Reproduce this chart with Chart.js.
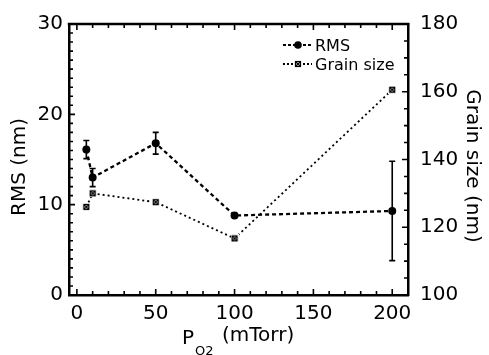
<!DOCTYPE html>
<html>
<head>
<meta charset="utf-8">
<script src="https://cdn.jsdelivr.net/npm/chart.js@4.4.1/dist/chart.umd.min.js"></script>
<style>
html,body{margin:0;padding:0;background:#fff;}
canvas{display:block;}
</style>
</head>
<body>
<canvas id="c" width="489" height="355"></canvas>
<script>
// ---- data ----
const pressure = [6, 10, 50, 100, 200];          // P_O2 (mTorr)
const rmsValues = [16.1, 13.0, 16.8, 8.8, 9.3];  // RMS (nm)
const rmsErrors = [1.0, 1.0, 1.2, 0, 5.5];       // RMS error (nm)
const grainValues = [126, 130, 127.4, 116.7, 160.6]; // Grain size (nm)
const xTickValues = [0, 50, 100, 150, 200];
const yTickValues = [0, 10, 20, 30];
const y2TickValues = [100, 120, 140, 160, 180];

const FONT = "DejaVu Sans";

// crossed-square marker for grain size
function makeMarker() {
  const m = document.createElement('canvas');
  m.width = 8; m.height = 8;
  const g = m.getContext('2d');
  g.fillStyle = '#fff'; g.fillRect(0, 0, 8, 8);
  g.strokeStyle = '#000'; g.lineWidth = 1.2;
  g.strokeRect(1.5, 1.5, 5, 5);
  g.beginPath();
  g.moveTo(2, 2); g.lineTo(6, 6);
  g.moveTo(6, 2); g.lineTo(2, 6);
  g.stroke();
  return m;
}
const grainMarker = makeMarker();

const decor = {
  id: 'decor',
  afterDatasetsDraw(chart) {
    const ctx = chart.ctx;
    const x = chart.scales.x, y = chart.scales.y, y2 = chart.scales.y2;
    const ca = chart.chartArea;
    ctx.save();
    // error bars
    ctx.strokeStyle = '#000'; ctx.lineWidth = 1.6;
    pressure.forEach((p, i) => {
      const e = rmsErrors[i];
      if (!e) return;
      const px = x.getPixelForValue(p);
      const t = y.getPixelForValue(rmsValues[i] + e);
      const b = y.getPixelForValue(rmsValues[i] - e);
      ctx.beginPath();
      ctx.moveTo(px, t); ctx.lineTo(px, b);
      ctx.moveTo(px - 3, t); ctx.lineTo(px + 3, t);
      ctx.moveTo(px - 3, b); ctx.lineTo(px + 3, b);
      ctx.stroke();
    });
    // top frame
    ctx.lineWidth = 2.5;
    ctx.beginPath();
    ctx.moveTo(ca.left - 1.25, ca.top); ctx.lineTo(ca.right + 1.25, ca.top);
    ctx.stroke();
    // inward ticks
    ctx.lineWidth = 1.6;
    ctx.beginPath();
    for (let v = 0; v <= 210; v += 10) {
      const px = x.getPixelForValue(v);
      const L = v % 50 === 0 ? 6 : 4;
      ctx.moveTo(px, ca.bottom); ctx.lineTo(px, ca.bottom - L);
      ctx.moveTo(px, ca.top); ctx.lineTo(px, ca.top + L);
    }
    for (let v = 0; v <= 30; v += 1) {
      const py = y.getPixelForValue(v);
      const L = v % 10 === 0 ? 6 : 4;
      ctx.moveTo(ca.left, py); ctx.lineTo(ca.left + L, py);
    }
    for (let v = 100; v <= 180; v += 5) {
      const py = y2.getPixelForValue(v);
      const L = v % 20 === 0 ? 6 : 4;
      ctx.moveTo(ca.right, py); ctx.lineTo(ca.right - L, py);
    }
    ctx.stroke();

    // legend
    ctx.fillStyle = '#000';
    ctx.strokeStyle = '#000';
    ctx.lineWidth = 2.2;
    ctx.setLineDash([3, 2]);
    ctx.beginPath(); ctx.moveTo(283, 45); ctx.lineTo(312, 45); ctx.stroke();
    ctx.lineWidth = 1.8;
    ctx.setLineDash([2, 2]);
    ctx.beginPath(); ctx.moveTo(283, 64); ctx.lineTo(312, 64); ctx.stroke();
    ctx.setLineDash([]);
    ctx.beginPath(); ctx.arc(298, 45, 3.8, 0, Math.PI * 2); ctx.fill();
    ctx.drawImage(grainMarker, 294, 60);
    ctx.font = '16px "' + FONT + '"';
    ctx.textBaseline = 'alphabetic';
    ctx.textAlign = 'left';
    ctx.fillText('RMS', 315, 51);
    ctx.fillText('Grain size', 315, 70);

    // axis titles
    ctx.font = '20px "' + FONT + '"';
    ctx.save();
    ctx.translate(25, 167);
    ctx.rotate(-Math.PI / 2);
    ctx.textAlign = 'center';
    ctx.fillText('RMS (nm)', 0, 0);
    ctx.restore();
    ctx.save();
    ctx.translate(467, 166);
    ctx.rotate(Math.PI / 2);
    ctx.textAlign = 'center';
    ctx.fillText('Grain size (nm)', 0, 0);
    ctx.restore();
    // x title with subscript
    ctx.textAlign = 'left';
    ctx.fillText('P', 182, 344);
    ctx.font = '13px "' + FONT + '"';
    ctx.fillText('O2', 195, 355);
    ctx.font = '20px "' + FONT + '"';
    ctx.fillText('(mTorr)', 222, 341);
    ctx.restore();
  }
};

new Chart(document.getElementById('c'), {
  type: 'line',
  data: {
    datasets: [
      {
        label: 'RMS',
        data: pressure.map((p, i) => ({ x: p, y: rmsValues[i] })),
        yAxisID: 'y',
        borderColor: '#000',
        backgroundColor: '#000',
        borderWidth: 2.3,
        borderDash: [4, 3],
        pointRadius: 4,
        pointStyle: 'circle',
        pointBorderWidth: 0,
        tension: 0
      },
      {
        label: 'Grain size',
        data: pressure.map((p, i) => ({ x: p, y: grainValues[i] })),
        yAxisID: 'y2',
        borderColor: '#000',
        backgroundColor: '#fff',
        borderWidth: 1.8,
        borderDash: [2, 3],
        pointStyle: grainMarker,
        tension: 0
      }
    ]
  },
  options: {
    responsive: false,
    animation: false,
    layout: { padding: { top: 21, left: 0, right: 0, bottom: 0 } },
    plugins: { legend: { display: false }, tooltip: { enabled: false } },
    scales: {
      x: {
        type: 'linear', position: 'bottom', min: -5, max: 210,
        afterBuildTicks: s => { s.ticks = xTickValues.map(v => ({ value: v })); },
        afterFit: s => { s.height = 60; },
        grid: { display: false, drawTicks: false },
        border: { display: true, color: '#000', width: 2.5 },
        ticks: { color: '#000', padding: 7, maxRotation: 0, font: { family: FONT, size: 20 } }
      },
      y: {
        type: 'linear', position: 'left', min: 0, max: 30,
        afterBuildTicks: s => { s.ticks = yTickValues.map(v => ({ value: v })); },
        afterFit: s => { s.width = 69; },
        grid: { display: false, drawTicks: false },
        border: { display: true, color: '#000', width: 2.5 },
        ticks: { color: '#000', padding: 6, font: { family: FONT, size: 20 } }
      },
      y2: {
        type: 'linear', position: 'right', min: 100, max: 180,
        afterBuildTicks: s => { s.ticks = y2TickValues.map(v => ({ value: v })); },
        afterFit: s => { s.width = 81; },
        grid: { display: false, drawTicks: false },
        border: { display: true, color: '#000', width: 2.5 },
        ticks: { color: '#000', padding: 12, font: { family: FONT, size: 20 } }
      }
    }
  },
  plugins: [decor]
});
</script>
</body>
</html>
